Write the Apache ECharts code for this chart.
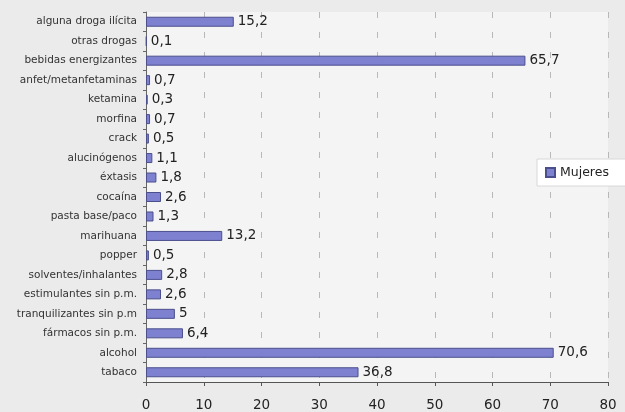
<!DOCTYPE html>
<html>
<head>
  <meta charset="utf-8">
  <title>Mujeres</title>
  <style>
    body { margin: 0; background: #ebebeb; }
    #chart { width: 625px; height: 412px; }
  </style>
  <script src="https://cdn.jsdelivr.net/npm/echarts@6/dist/echarts.min.js"></script>
</head>
<body>
  <div id="chart"></div>
  <script>
    // categorias de arriba hacia abajo
    var categorias = ['alguna droga ilícita', 'otras drogas', 'bebidas energizantes', 'anfet/metanfetaminas',
      'ketamina', 'morfina', 'crack', 'alucinógenos', 'éxtasis', 'cocaína', 'pasta base/paco',
      'marihuana', 'popper', 'solventes/inhalantes', 'estimulantes sin p.m.', 'tranquilizantes sin p.m',
      'fármacos sin p.m.', 'alcohol', 'tabaco'];
    var mujeres = [15.2, 0.1, 65.7, 0.7, 0.3, 0.7, 0.5, 1.1, 1.8, 2.6, 1.3, 13.2, 0.5, 2.8, 2.6, 5, 6.4, 70.6, 36.8];
    var ticksX = [0, 10, 20, 30, 40, 50, 60, 70, 80];

    var chart = echarts.init(document.getElementById('chart'));
    chart.setOption({
      backgroundColor: '#ebebeb',
      animation: false,
      legend: {
        data: [{ name: 'Mujeres', icon: 'rect' }],
        left: 537, top: 159,
        orient: 'vertical',
        backgroundColor: '#ffffff',
        borderColor: '#d8d8d8', borderWidth: 1,
        padding: [7, 20, 7, 8],
        itemWidth: 9, itemHeight: 9, itemGap: 4,
        textStyle: { fontFamily: 'DejaVu Sans', fontSize: 12.5, color: '#222' }
      },
      grid: {
        left: 146, right: 17, top: 12, bottom: 29,
        show: true, backgroundColor: '#f4f4f4', borderWidth: 0
      },
      xAxis: {
        type: 'value', min: 0, max: 80, interval: 10,
        axisLine: { show: true, lineStyle: { color: '#555', width: 1 } },
        axisTick: { show: true, length: 4, lineStyle: { color: '#555' } },
        axisLabel: {
          fontFamily: 'DejaVu Sans', fontSize: 13.5, color: '#222', margin: 16,
          formatter: function (v) { return ticksX.indexOf(v) >= 0 ? String(v) : ''; }
        },
        splitLine: { show: true, lineStyle: { color: '#b8b8b8', type: [6, 14], width: 1 } }
      },
      yAxis: {
        type: 'category', data: categorias, inverse: true,
        axisLine: { show: true, lineStyle: { color: '#666', width: 1 } },
        axisTick: { show: true, length: 3, lineStyle: { color: '#666' } },
        axisLabel: { fontFamily: 'DejaVu Sans', fontSize: 10.5, color: '#333', margin: 9 }
      },
      series: [{
        name: 'Mujeres', type: 'bar', data: mujeres,
        barWidth: 10,
        itemStyle: { color: '#7e80d0', borderColor: '#4b4f8c', borderWidth: 1 },
        label: {
          show: true, position: 'right', distance: 4,
          fontFamily: 'DejaVu Sans', fontSize: 13.5, color: '#222',
          formatter: function (p) { return String(p.value).replace('.', ','); }
        }
      }]
    });
  </script>
</body>
</html>
